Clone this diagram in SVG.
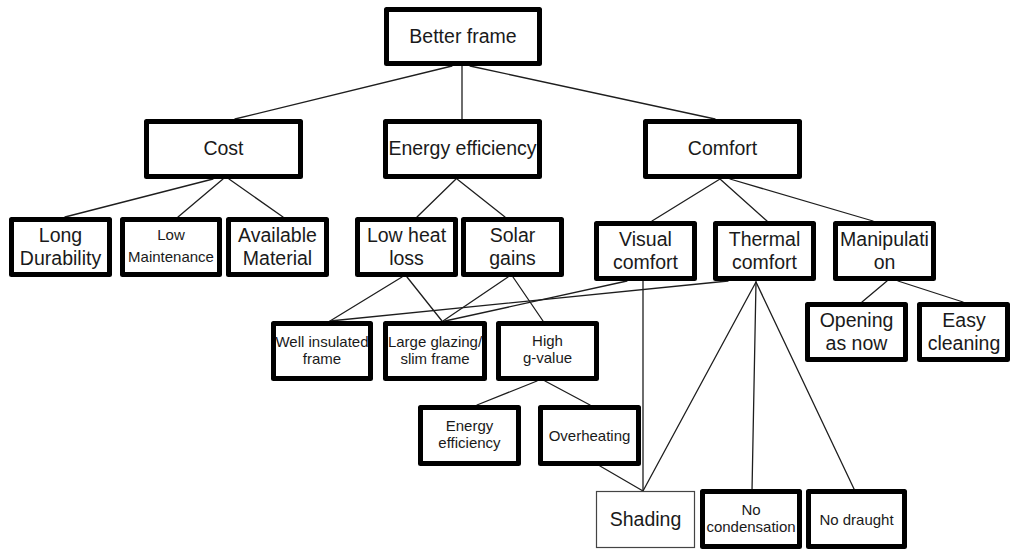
<svg xmlns="http://www.w3.org/2000/svg" width="1011" height="550" viewBox="0 0 1011 550">
  <style>
    .box { fill: #ffffff; stroke: #000000; stroke-width: 5; stroke-linejoin: round; }
    .thin { fill: #ffffff; stroke: #444444; stroke-width: 1.2; }
    .lbl { font-family: "Liberation Sans", Arial, sans-serif; font-size: 19.5px; fill: #1a1a1a; text-anchor: middle; }
    .sm { font-size: 15px; }
    .edge { stroke: #1e1e1e; stroke-width: 1.3; fill: none; stroke-linecap: round; }
  </style>
  <rect width="1011" height="550" fill="#ffffff"/>

  <!-- connectors -->
  <g id="connectors" class="edge">
    <line x1="452" y1="66" x2="235" y2="119"/>
    <line x1="462" y1="66" x2="462" y2="119"/>
    <line x1="470" y1="66" x2="715" y2="119"/>
    <line x1="213" y1="179" x2="65" y2="217"/>
    <line x1="223" y1="179" x2="178" y2="217"/>
    <line x1="229" y1="179" x2="283" y2="217"/>
    <line x1="456" y1="179" x2="417" y2="217"/>
    <line x1="457" y1="179" x2="505" y2="217"/>
    <line x1="720" y1="179" x2="652" y2="221"/>
    <line x1="720" y1="179" x2="767" y2="221"/>
    <line x1="730" y1="179" x2="873" y2="221"/>
    <line x1="402" y1="277" x2="330" y2="321"/>
    <line x1="407" y1="277" x2="442" y2="321"/>
    <line x1="508" y1="277" x2="443" y2="321"/>
    <line x1="513" y1="277" x2="543" y2="321"/>
    <line x1="627" y1="281" x2="445" y2="321"/>
    <line x1="728" y1="281" x2="330" y2="321"/>
    <line x1="643" y1="281" x2="643" y2="491"/>
    <line x1="756" y1="282" x2="643" y2="491"/>
    <line x1="756" y1="282" x2="752" y2="491"/>
    <line x1="756" y1="282" x2="855" y2="491"/>
    <line x1="537" y1="381" x2="477" y2="405"/>
    <line x1="545" y1="381" x2="590" y2="405"/>
    <line x1="600" y1="466" x2="643" y2="491"/>
    <line x1="887" y1="281" x2="862" y2="302"/>
    <line x1="898" y1="281" x2="963" y2="302"/>
  </g>

  <!-- root -->
  <g id="better-frame">
    <rect class="box" x="386.5" y="9.5" width="153" height="54"/>
    <text class="lbl" x="463" y="43">Better frame</text>
  </g>

  <!-- first level -->
  <g id="cost">
    <rect class="box" x="146.5" y="121.5" width="154" height="55"/>
    <text class="lbl" x="223.5" y="155">Cost</text>
  </g>
  <g id="energy-efficiency">
    <rect class="box" x="385.5" y="121.5" width="154" height="55"/>
    <text class="lbl" x="462.5" y="155" font-size="20">Energy efficiency</text>
  </g>
  <g id="comfort">
    <rect class="box" x="645.5" y="121.5" width="154" height="55"/>
    <text class="lbl" x="722.5" y="155">Comfort</text>
  </g>

  <!-- second level -->
  <g id="long-durability">
    <rect class="box" x="11.5" y="219.5" width="98" height="55"/>
    <text class="lbl" x="60.5" y="242">Long</text>
    <text class="lbl" x="60.5" y="265">Durability</text>
  </g>
  <g id="low-maintenance">
    <rect class="box" x="122.5" y="219.5" width="97" height="55"/>
    <text class="lbl sm" x="171" y="240">Low</text>
    <text class="lbl sm" x="171" y="262">Maintenance</text>
  </g>
  <g id="available-material">
    <rect class="box" x="228.5" y="219.5" width="98" height="55"/>
    <text class="lbl" x="277.5" y="242">Available</text>
    <text class="lbl" x="277.5" y="265">Material</text>
  </g>
  <g id="low-heat-loss">
    <rect class="box" x="357.5" y="219.5" width="98" height="55"/>
    <text class="lbl" x="406.5" y="242">Low heat</text>
    <text class="lbl" x="406.5" y="265">loss</text>
  </g>
  <g id="solar-gains">
    <rect class="box" x="463.5" y="219.5" width="98" height="55"/>
    <text class="lbl" x="512.5" y="242">Solar</text>
    <text class="lbl" x="512.5" y="265">gains</text>
  </g>
  <g id="visual-comfort">
    <rect class="box" x="596.5" y="223.5" width="98" height="55"/>
    <text class="lbl" x="645.5" y="246">Visual</text>
    <text class="lbl" x="645.5" y="269">comfort</text>
  </g>
  <g id="thermal-comfort">
    <rect class="box" x="715.5" y="223.5" width="98" height="55"/>
    <text class="lbl" x="764.5" y="246">Thermal</text>
    <text class="lbl" x="764.5" y="269">comfort</text>
  </g>
  <g id="manipulation">
    <rect class="box" x="835.5" y="223.5" width="98" height="55"/>
    <text class="lbl" x="884.5" y="246">Manipulati</text>
    <text class="lbl" x="884.5" y="269">on</text>
  </g>

  <!-- third level -->
  <g id="well-insulated-frame">
    <rect class="box" x="273.5" y="323.5" width="97" height="55"/>
    <text class="lbl sm" x="322" y="347">Well insulated</text>
    <text class="lbl sm" x="322" y="364">frame</text>
  </g>
  <g id="large-glazing">
    <rect class="box" x="385.5" y="323.5" width="99" height="55"/>
    <text class="lbl sm" x="435" y="347">Large glazing/</text>
    <text class="lbl sm" x="435" y="364">slim frame</text>
  </g>
  <g id="high-g-value">
    <rect class="box" x="498.5" y="323.5" width="98" height="55"/>
    <text class="lbl sm" x="547.5" y="346">High</text>
    <text class="lbl sm" x="547.5" y="363">g-value</text>
  </g>
  <g id="opening-as-now">
    <rect class="box" x="807.5" y="304.5" width="98" height="55"/>
    <text class="lbl" x="856.5" y="327">Opening</text>
    <text class="lbl" x="856.5" y="350">as now</text>
  </g>
  <g id="easy-cleaning">
    <rect class="box" x="919.5" y="304.5" width="88" height="55"/>
    <text class="lbl" x="964" y="327">Easy</text>
    <text class="lbl" x="964" y="350">cleaning</text>
  </g>

  <!-- fourth level -->
  <g id="energy-efficiency-2">
    <rect class="box" x="420.5" y="407.5" width="98" height="56"/>
    <text class="lbl sm" x="469.5" y="431">Energy</text>
    <text class="lbl sm" x="469.5" y="448">efficiency</text>
  </g>
  <g id="overheating">
    <rect class="box" x="540.5" y="407.5" width="98" height="56"/>
    <text class="lbl sm" x="589.5" y="441">Overheating</text>
  </g>

  <!-- bottom level -->
  <g id="shading">
    <rect class="thin" x="596.5" y="491.5" width="98" height="56"/>
    <text class="lbl" x="645.5" y="526">Shading</text>
  </g>
  <g id="no-condensation">
    <rect class="box" x="702.5" y="491.5" width="97" height="55"/>
    <text class="lbl sm" x="751" y="515">No</text>
    <text class="lbl sm" x="751" y="532">condensation</text>
  </g>
  <g id="no-draught">
    <rect class="box" x="808.5" y="491.5" width="96" height="55"/>
    <text class="lbl sm" x="856.5" y="525">No draught</text>
  </g>
</svg>
